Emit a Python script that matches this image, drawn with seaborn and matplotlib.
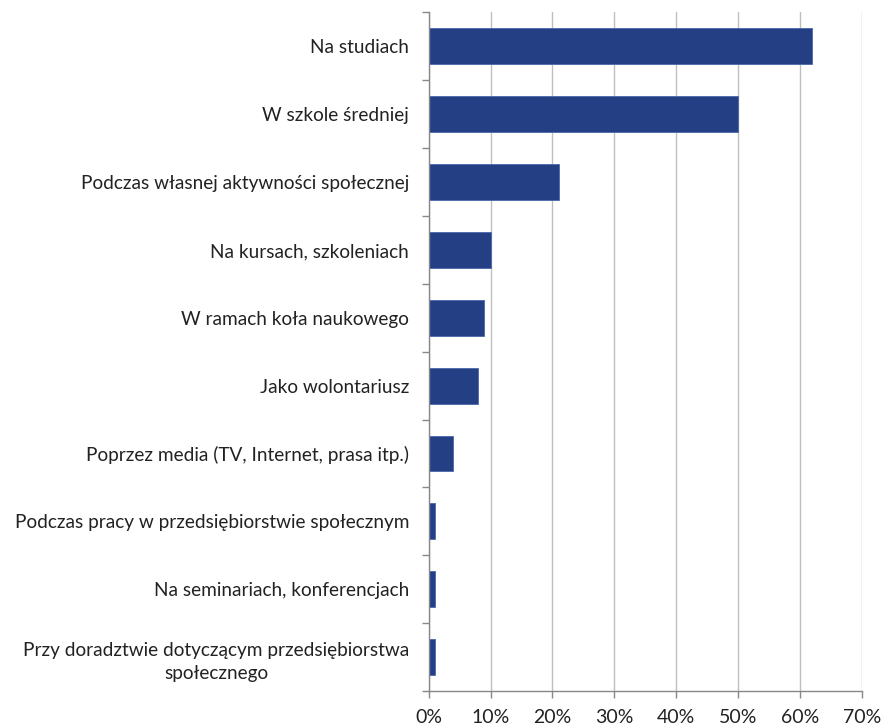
import numpy as np
import pandas as pd
import matplotlib
matplotlib.use('Agg')
import matplotlib.pyplot as plt
import seaborn as sns
from matplotlib.ticker import FixedLocator, PercentFormatter

# dane
kategorie = ['Na studiach',
             'W szkole średniej',
             'Podczas własnej aktywności społecznej',
             'Na kursach, szkoleniach',
             'W ramach koła naukowego',
             'Jako wolontariusz',
             'Poprzez media (TV, Internet, prasa itp.)',
             'Podczas pracy w przedsiębiorstwie społecznym',
             'Na seminariach, konferencjach',
             'Przy doradztwie dotyczącym przedsiębiorstwa\nspołecznego']
wartosci = [62, 50, 21, 10, 9, 8, 4, 1, 1, 1]
xticki = [0, 10, 20, 30, 40, 50, 60, 70]

df = pd.DataFrame({'kategoria': kategorie, 'procent': wartosci})

sns.set_style('white')
plt.rcParams['font.family'] = ['Lato', 'DejaVu Sans']

fig = plt.figure(figsize=(8.82, 7.27), dpi=100)
ax = fig.add_axes([0.486, 0.0495, 0.491, 0.9335])

sns.barplot(data=df, x='procent', y='kategoria', orient='h', color='#253F85',
            width=0.53, saturation=1, edgecolor='#4A68A8', linewidth=0.6, ax=ax)

ax.set_xlim(0, 70)
ax.set_ylim(len(kategorie) - 0.5, -0.5)
ax.set_xticks(xticki)
ax.xaxis.set_major_formatter(PercentFormatter(decimals=0))
ax.grid(axis='x', color='#BFBFBF', linewidth=1)
ax.set_axisbelow(True)
ax.set_xlabel('')
ax.set_ylabel('')

# znaczniki między kategoriami
ax.yaxis.set_minor_locator(FixedLocator(np.arange(-0.5, len(kategorie), 1)))
ax.tick_params(axis='y', which='major', length=0, pad=14, labelsize=13.7, labelcolor='#222222')
ax.tick_params(axis='y', which='minor', length=5, color='#888888', width=1, direction='out', left=True)
ax.tick_params(axis='x', which='major', length=5, color='#888888', width=1, direction='out',
               bottom=True, labelsize=14, labelcolor='#222222', pad=8)
for lab in ax.get_yticklabels():
    lab.set_multialignment('center')
    lab.set_linespacing(1.45)

for s in ['top', 'right']:
    ax.spines[s].set_visible(False)
for s in ['left', 'bottom']:
    ax.spines[s].set_color('#888888')
    ax.spines[s].set_linewidth(1)

fig.savefig('out.png', dpi=100)
